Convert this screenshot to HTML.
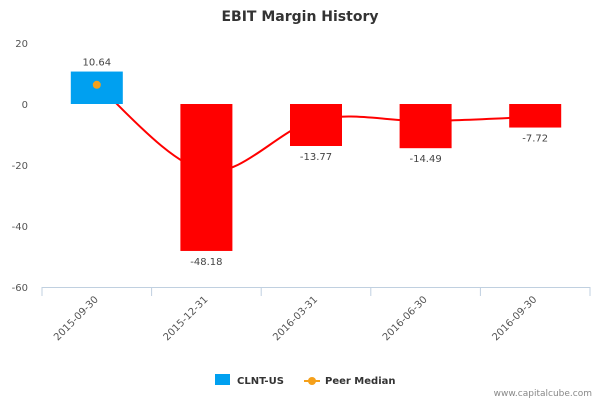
<!DOCTYPE html>
<html><head><meta charset="utf-8"><style>
body{margin:0;background:#fff;font-family:"Liberation Sans","DejaVu Sans",sans-serif}
svg text{font-family:"DejaVu Sans","Liberation Sans",sans-serif}
</style></head><body>
<svg id="c" width="600" height="400">
<text x="300" y="21" text-anchor="middle" font-size="14" font-weight="bold" fill="#333">EBIT Margin History</text>
<g id="grid"></g>
<g id="line"></g>
<g id="bars"></g>
<g id="labels"></g>
<g>
<rect x="215" y="374" width="15" height="11" fill="#00a0f0"></rect>
<text x="237" y="384" font-size="10" font-weight="bold" fill="#333">CLNT-US</text>
<line x1="304" y1="381" x2="320" y2="381" stroke="#f5a01a" stroke-width="2"></line>
<circle cx="312" cy="381" r="4" fill="#f5a01a"></circle>
<text x="325" y="384" font-size="10" font-weight="bold" fill="#333">Peer Median</text>
</g>
<text x="592" y="396" text-anchor="end" font-size="9" fill="#888">www.capitalcube.com</text>
</svg>
<script>
const categories=["2015-09-30","2015-12-31","2016-03-31","2016-06-30","2016-09-30"];
const values=[10.64,-48.18,-13.77,-14.49,-7.72];
const peerMedian=[6.3,-22,-5.2,-5.6,-4.2];
const yTicks=[20,0,-20,-40,-60];
const NS="http://www.w3.org/2000/svg";
const x0=42,x1=590,yTop=43,yBot=287,yMax=20,yMin=-60;
const bw=(x1-x0)/categories.length;
function X(i){return x0+bw*(i+0.5);}
function Y(v){return yTop+(yMax-v)/(yMax-yMin)*(yBot-yTop);}
function mk(t,a,p){const e=document.createElementNS(NS,t);for(const k in a)e.setAttribute(k,a[k]);p.appendChild(e);return e;}
const grid=document.getElementById('grid'),bars=document.getElementById('bars'),labels=document.getElementById('labels'),lineG=document.getElementById('line');
yTicks.forEach(v=>{const t=mk('text',{x:28,y:Y(v)+4,'text-anchor':'end','font-size':10,fill:'#555'},grid);t.textContent=v;

});
mk('line',{x1:x0,y1:yBot+0.5,x2:x1,y2:yBot+0.5,stroke:'#c0d0e0'},grid);
for(let i=0;i<=categories.length;i++){mk('line',{x1:x0+bw*i,y1:yBot,x2:x0+bw*i,y2:yBot+9,stroke:'#c0d0e0'},grid);}
categories.forEach((c,i)=>{const t=mk('text',{x:0,y:0,'text-anchor':'end','font-size':10,fill:'#555',transform:`translate(${X(i)+2},${yBot+13}) rotate(-45)`},grid);t.textContent=c;

});
// line
const pts=peerMedian.map((v,i)=>[X(i),Y(v)]);
let d=`M${pts[0][0]},${pts[0][1]}`;
for(let i=0;i<pts.length-1;i++){const p0=pts[i-1]||pts[i],p1=pts[i],p2=pts[i+1],p3=pts[i+2]||p2;
d+=` C${p1[0]+(p2[0]-p0[0])/6},${p1[1]+(p2[1]-p0[1])/6} ${p2[0]-(p3[0]-p1[0])/6},${p2[1]-(p3[1]-p1[1])/6} ${p2[0]},${p2[1]}`;}
const defs=mk('defs',{},lineG);
const cpA=mk('clipPath',{id:'above'},defs);mk('rect',{x:0,y:0,width:600,height:Y(0)},cpA);
const cpB=mk('clipPath',{id:'below'},defs);mk('rect',{x:0,y:Y(0),width:600,height:400},cpB);
const l1=mk('path',{d:d,fill:'none',stroke:'#f5a01a','stroke-width':2,'clip-path':'url(#above)'},lineG);


const l2=mk('path',{d:d,fill:'none',stroke:'#ff0000','stroke-width':2,'clip-path':'url(#below)'},lineG);


const m=mk('circle',{cx:pts[0][0],cy:pts[0][1],r:4,fill:'#f5a01a'},lineG);


values.forEach((v,i)=>{const ya=Y(Math.max(v,0)),yb=Y(Math.min(v,0));
const r=mk('rect',{x:X(i)-26,y:ya,width:52,height:yb-ya,fill:v>=0?'#00a0f0':'#ff0000'},bars);


const t=mk('text',{x:X(i),y:v>=0?Y(v)-6:Y(v)+14,'text-anchor':'middle','font-size':10,fill:'#444'},labels);t.textContent=v.toFixed(2);

});
if(values[0]>=0){lineG.parentNode.appendChild(m);}
</script>
</body></html>
